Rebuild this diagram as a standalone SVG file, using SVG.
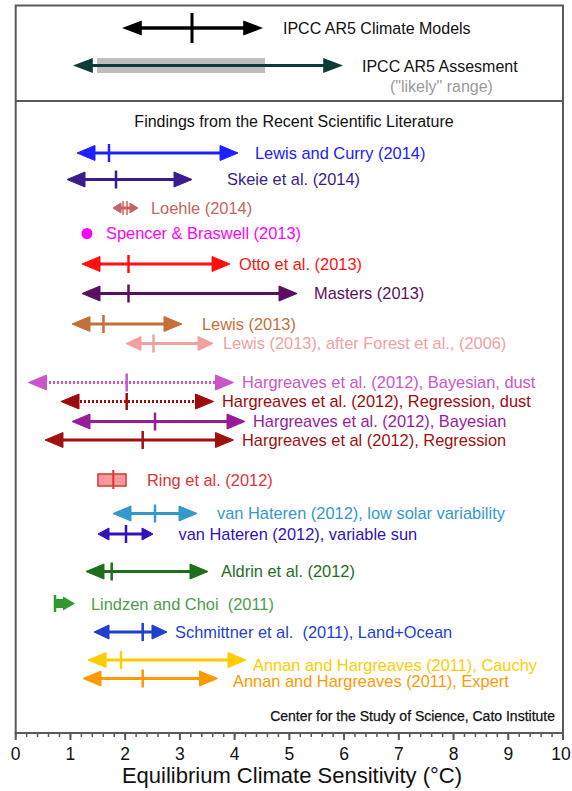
<svg xmlns="http://www.w3.org/2000/svg" xmlns:xlink="http://www.w3.org/1999/xlink" width="572" height="791" viewBox="0 0 572 791">
<style>
text{font-family:"Liberation Sans",Arial,Helvetica,sans-serif;font-size:16px;white-space:pre}
g[id] text{font-size:16.4px}
.ln{stroke-width:3;fill:none}
.dot{stroke-width:3;fill:none;stroke-dasharray:2 2}
.tk{stroke-width:2.5}
.frame{fill:#fff;stroke:#5a5a5a;stroke-width:2}
#axis text.ax{font-size:17.5px;fill:#111;text-anchor:middle}
#ipcc-models text,#ipcc-assessment text{font-size:16px}
</style>
<defs>
<path id="ah" d="M0,0 L-18,-7.5 L-18,7.5 Z"/>
<path id="ahm" d="M0,0 L-15,-7 L-15,7 Z"/>
<path id="ahs" d="M0,0 L-11,-6 L-11,6 Z"/>
<path id="aht" d="M0,0 L-8,-5 L-8,5 Z"/>
</defs>
<rect width="572" height="791" fill="#fff"/>
<rect class="frame" x="15.7" y="5.5" width="547.3" height="727.5"/>
<line x1="15.7" y1="101" x2="563" y2="101" stroke="#5a5a5a" stroke-width="2"/>

<g id="ipcc-models">
<line x1="138" y1="28" x2="246" y2="28" stroke="#000" stroke-width="3.5"/>
<use href="#ah" transform="translate(122,28) scale(-1.1,1)" fill="#000"/>
<use href="#ah" transform="translate(263,28) scale(1.1,1)" fill="#000"/>
<line x1="192" y1="13" x2="192" y2="43" stroke="#000" stroke-width="3"/>
<text x="283" y="34" fill="#111">IPCC AR5 Climate Models</text>
</g>
<g id="ipcc-assessment">
<rect x="97" y="58" width="168" height="15" fill="#bdbdbd"/>
<line x1="88" y1="65.5" x2="328" y2="65.5" stroke="#0d3b38" stroke-width="3"/>
<use href="#ah" transform="translate(73,65.5) scale(-1.1,1)" fill="#0d3b38"/>
<use href="#ah" transform="translate(343,65.5) scale(1.1,1)" fill="#0d3b38"/>
<text x="362" y="72" fill="#111">IPCC AR5 Assesment</text>
<text x="390" y="92" fill="#9a9a9a">("likely" range)</text>
</g>
<text x="294" y="127" text-anchor="middle" fill="#111">Findings from the Recent Scientific Literature</text>

<g id="lewis-curry" stroke="#2020ff" fill="#2020ff">
<line class="ln" x1="90" y1="153" x2="225" y2="153"/>
<use href="#ah" transform="translate(77,153) scale(-1,1)"/>
<use href="#ah" transform="translate(238,153)"/>
<line class="tk" x1="109" y1="144" x2="109" y2="162"/>
<text x="255" y="158.5" stroke="none">Lewis and Curry (2014)</text>
</g>
<g id="skeie" stroke="#3a1c8c" fill="#3a1c8c">
<line class="ln" x1="80" y1="179.5" x2="179" y2="179.5"/>
<use href="#ah" transform="translate(67,179.5) scale(-1,1)"/>
<use href="#ah" transform="translate(192,179.5)"/>
<line class="tk" x1="116" y1="170.5" x2="116" y2="188.5"/>
<text x="227" y="185" stroke="none">Skeie et al. (2014)</text>
</g>
<g id="loehle" stroke="#c46464" fill="#c46464">
<line class="ln" x1="118" y1="208" x2="133" y2="208"/>
<use href="#aht" transform="translate(113,208) scale(-1,1)"/>
<use href="#aht" transform="translate(138,208)"/>
<line stroke-width="1.5" x1="123" y1="201" x2="123" y2="215"/>
<line stroke-width="1.5" x1="127" y1="201" x2="127" y2="215"/>
<text x="151" y="213.5" stroke="none">Loehle (2014)</text>
</g>
<g id="spencer-braswell" fill="#ff00ff">
<circle cx="87" cy="233.5" r="5.5"/>
<text x="106" y="239">Spencer &amp; Braswell (2013)</text>
</g>
<g id="otto" stroke="#ff1010" fill="#ff1010">
<line class="ln" x1="95" y1="264" x2="217" y2="264"/>
<use href="#ah" transform="translate(82,264) scale(-1,1)"/>
<use href="#ah" transform="translate(230,264)"/>
<line class="tk" x1="128.5" y1="255" x2="128.5" y2="273"/>
<text x="239" y="269.5" stroke="none">Otto et al. (2013)</text>
</g>
<g id="masters" stroke="#5a1060" fill="#5a1060">
<line class="ln" x1="95" y1="293.5" x2="284" y2="293.5"/>
<use href="#ah" transform="translate(82,293.5) scale(-1,1)"/>
<use href="#ah" transform="translate(297,293.5)"/>
<line class="tk" x1="128.5" y1="284.5" x2="128.5" y2="302.5"/>
<text x="314" y="299" stroke="none">Masters (2013)</text>
</g>
<g id="lewis-2013" stroke="#c4703a" fill="#c4703a">
<line class="ln" x1="85" y1="324" x2="169" y2="324"/>
<use href="#ah" transform="translate(72,324) scale(-1,1)"/>
<use href="#ah" transform="translate(182,324)"/>
<line class="tk" x1="103.5" y1="315" x2="103.5" y2="333"/>
<text x="202" y="329.5" stroke="none">Lewis (2013)</text>
</g>
<g id="lewis-forest" stroke="#f4a0a0" fill="#f4a0a0">
<line class="ln" x1="137" y1="343.5" x2="202" y2="343.5"/>
<use href="#ahm" transform="translate(126,343.5) scale(-1,1)"/>
<use href="#ahm" transform="translate(213,343.5)"/>
<line class="tk" x1="153.5" y1="334.5" x2="153.5" y2="352.5"/>
<text x="223" y="349" stroke="none">Lewis (2013), after Forest et al., (2006)</text>
</g>
<g id="hargreaves-bayes-dust" stroke="#cc55cc" fill="#cc55cc">
<line class="dot" x1="45" y1="382.5" x2="218" y2="382.5"/>
<use href="#ah" transform="translate(28.5,382.5) scale(-1,1)"/>
<use href="#ah" transform="translate(233.5,382.5)"/>
<line class="tk" x1="126.7" y1="373.5" x2="126.7" y2="391.5"/>
<text x="242" y="388" stroke="none">Hargreaves et al. (2012), Bayesian, dust</text>
</g>
<g id="hargreaves-regr-dust" stroke="#9e0a0a" fill="#9e0a0a">
<line class="dot" x1="76" y1="401.5" x2="200" y2="401.5"/>
<use href="#ah" transform="translate(61,401.5) scale(-1,1)"/>
<use href="#ah" transform="translate(213.5,401.5)"/>
<line class="tk" x1="126.7" y1="393" x2="126.7" y2="410"/>
<text x="222" y="407" stroke="none">Hargreaves et al. (2012), Regression, dust</text>
</g>
<g id="hargreaves-bayes" stroke="#981c98" fill="#981c98">
<line class="ln" x1="85" y1="421.5" x2="232" y2="421.5"/>
<use href="#ah" transform="translate(72,421.5) scale(-1,1)"/>
<use href="#ah" transform="translate(245,421.5)"/>
<line class="tk" x1="155" y1="412.5" x2="155" y2="430.5"/>
<text x="253" y="427" stroke="none">Hargreaves et al. (2012), Bayesian</text>
</g>
<g id="hargreaves-regr" stroke="#a01010" fill="#a01010">
<line class="ln" x1="58" y1="440" x2="220" y2="440"/>
<use href="#ah" transform="translate(45,440) scale(-1,1)"/>
<use href="#ah" transform="translate(233.5,440)"/>
<line class="tk" x1="142.7" y1="431" x2="142.7" y2="449"/>
<text x="242" y="445.5" stroke="none">Hargreaves et al (2012), Regression</text>
</g>
<g id="ring">
<rect x="98" y="474" width="28" height="12" fill="#f59a9a" stroke="#dd3333" stroke-width="1.5"/>
<line x1="113.3" y1="470" x2="113.3" y2="489" stroke="#dd3333" stroke-width="2"/>
<text x="147" y="485.5" fill="#dd3333">Ring et al. (2012)</text>
</g>
<g id="vanhateren-low" stroke="#3399cc" fill="#3399cc">
<line class="ln" x1="126" y1="513.5" x2="184" y2="513.5"/>
<use href="#ah" transform="translate(113,513.5) scale(-1,1)"/>
<use href="#ah" transform="translate(197,513.5)"/>
<line class="tk" x1="155" y1="504.5" x2="155" y2="522.5"/>
<text x="217" y="519" stroke="none">van Hateren (2012), low solar variability</text>
</g>
<g id="vanhateren-var" stroke="#3311bb" fill="#3311bb">
<line class="ln" x1="106" y1="534" x2="145" y2="534"/>
<use href="#ahs" transform="translate(98,534) scale(-1,1)"/>
<use href="#ahs" transform="translate(153,534)"/>
<line class="tk" x1="126" y1="525" x2="126" y2="543"/>
<text x="178.5" y="539.5" stroke="none">van Hateren (2012), variable sun</text>
</g>
<g id="aldrin" stroke="#1d6e1d" fill="#1d6e1d">
<line class="ln" x1="99" y1="571.5" x2="195" y2="571.5"/>
<use href="#ah" transform="translate(86,571.5) scale(-1,1)"/>
<use href="#ah" transform="translate(208,571.5)"/>
<line class="tk" x1="111.7" y1="562.5" x2="111.7" y2="580.5"/>
<text x="221" y="577" stroke="none">Aldrin et al. (2012)</text>
</g>
<g id="lindzen-choi" fill="#2e9a2e">
<line x1="55" y1="595" x2="55" y2="612" stroke="#2e9a2e" stroke-width="2.5"/>
<polygon points="55,599 63,599 63,596.5 75,603.5 63,610.5 63,608 55,608"/>
<text x="91" y="609.5" fill="#4a9e4a">Lindzen and Choi  (2011)</text>
</g>
<g id="schmittner" stroke="#1f3fcc" fill="#1f3fcc">
<line class="ln" x1="105" y1="632" x2="155" y2="632"/>
<use href="#ahm" transform="translate(94,632) scale(-1,1)"/>
<use href="#ahm" transform="translate(167,632)"/>
<line class="tk" x1="142.7" y1="623" x2="142.7" y2="641"/>
<text x="175" y="637.5" stroke="none">Schmittner et al.  (2011), Land+Ocean</text>
</g>
<g id="annan-cauchy" stroke="#ffcc00" fill="#ffcc00">
<line class="ln" x1="101" y1="660" x2="233" y2="660"/>
<use href="#ah" transform="translate(88,660) scale(-1,1)"/>
<use href="#ah" transform="translate(246,660)"/>
<line class="tk" x1="121" y1="651" x2="121" y2="669"/>
<text x="253" y="670.5" stroke="none">Annan and Hargreaves (2011), Cauchy</text>
</g>
<g id="annan-expert" stroke="#ff9900" fill="#ff9900">
<line class="ln" x1="96" y1="678.5" x2="204" y2="678.5"/>
<use href="#ah" transform="translate(83,678.5) scale(-1,1)"/>
<use href="#ah" transform="translate(217.5,678.5)"/>
<line class="tk" x1="142.7" y1="669.5" x2="142.7" y2="687.5"/>
<text x="233" y="687" stroke="none">Annan and Hargreaves (2011), Expert</text>
</g>

<text x="555" y="721" text-anchor="end" fill="#111" stroke="#111" stroke-width="0.25" style="font-size:14px">Center for the Study of Science, Cato Institute</text>

<g id="axis">
<line x1="14.95" y1="735" x2="564" y2="735" stroke="#5a5a5a" stroke-width="4" stroke-dasharray="1.5 9.446"/>
<line x1="14.7" y1="736.5" x2="565" y2="736.5" stroke="#5a5a5a" stroke-width="7" stroke-dasharray="2 52.73"/>
<line x1="14.7" y1="733" x2="564" y2="733" stroke="#5a5a5a" stroke-width="2"/>
<text class="ax" x="15.7" y="760">0</text>
<text class="ax" x="70.4" y="760">1</text>
<text class="ax" x="125.2" y="760">2</text>
<text class="ax" x="179.9" y="760">3</text>
<text class="ax" x="234.6" y="760">4</text>
<text class="ax" x="289.4" y="760">5</text>
<text class="ax" x="344.1" y="760">6</text>
<text class="ax" x="398.8" y="760">7</text>
<text class="ax" x="453.5" y="760">8</text>
<text class="ax" x="508.3" y="760">9</text>
<text class="ax" x="561" y="760">10</text>
<text x="292" y="783" text-anchor="middle" fill="#111" style="font-size:22px">Equilibrium Climate Sensitivity (°C)</text>
</g>
</svg>
